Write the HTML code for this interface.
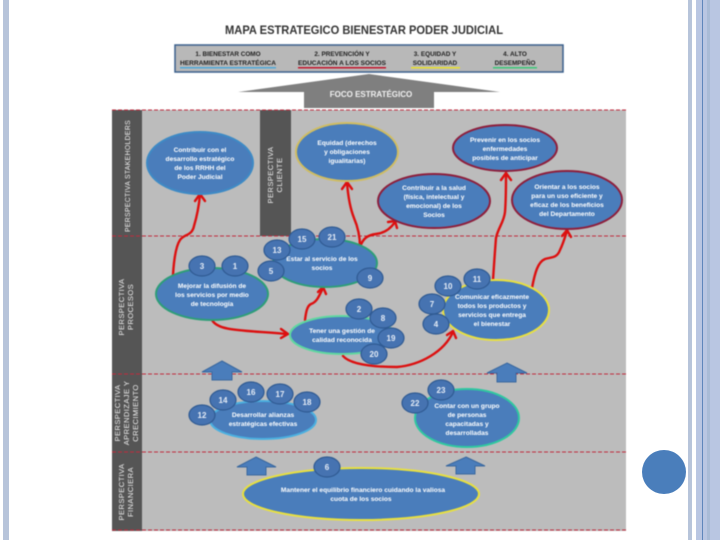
<!DOCTYPE html>
<html lang="es">
<head>
<meta charset="utf-8">
<title>Mapa Estratégico</title>
<style>
html,body{margin:0;padding:0;width:720px;height:540px;background:#fff;overflow:hidden}
svg{display:block}
.soft{filter:blur(.5px)}
text{font-family:"Liberation Sans",sans-serif;text-anchor:middle}
.t{font-size:6.6px;font-weight:bold;fill:#fff}
.n{font-size:8px;font-weight:bold;fill:#e6edf7}
.v{font-size:7.6px;fill:#eee;letter-spacing:.4px}
.h{font-size:6.4px;font-weight:bold;fill:#222}
.e{fill:#4a7dbb;stroke-width:2}
.b{fill:#4673b1;stroke:#2f5a92;stroke-width:1.2}
.d{stroke:#bf2a3c;stroke-width:1;stroke-dasharray:4 2;fill:none}
.r{stroke:#dc1010;stroke-width:2.4;fill:none;stroke-linecap:round;stroke-linejoin:round}
.u{fill:#4a7dbb;stroke:#3a689f;stroke-width:1}
</style>
</head>
<body>
<svg width="720" height="540" viewBox="0 0 720 540" xmlns="http://www.w3.org/2000/svg">
<!-- side decoration -->
<rect x="3" y="0" width="6" height="540" fill="#b7c4da"/>
<rect x="688" y="0" width="4" height="540" fill="#b7c4da"/>
<rect x="696" y="0" width="24" height="540" fill="#b9c6e2"/>
<rect x="702" y="0" width="1" height="540" fill="#5f86bb"/>
<rect x="707" y="0" width="3" height="540" fill="#a9bbd6"/>
<circle cx="664" cy="472" r="22" fill="#4a7ebb"/>

<g class="soft">
<!-- title -->
<text x="364" y="34" font-size="12" font-weight="bold" fill="#333" textLength="278" lengthAdjust="spacingAndGlyphs">MAPA ESTRATEGICO BIENESTAR PODER JUDICIAL</text>

<!-- header bar -->
<rect x="175" y="45" width="388" height="27" fill="#b8b8b8" stroke="#3a5f8c" stroke-width="1.5"/>
<text class="h" x="228" y="56">1. BIENESTAR COMO</text>
<text class="h" x="228" y="65" textLength="96" lengthAdjust="spacingAndGlyphs">HERRAMIENTA ESTRATÉGICA</text>
<rect x="180" y="67" width="96" height="1.5" fill="#4fa8d8"/>
<text class="h" x="342" y="56">2. PREVENCIÓN Y</text>
<text class="h" x="342" y="65" textLength="88" lengthAdjust="spacingAndGlyphs">EDUCACIÓN A LOS SOCIOS</text>
<rect x="298" y="67" width="88" height="1.5" fill="#c3162c"/>
<text class="h" x="435" y="56">3. EQUIDAD Y</text>
<text class="h" x="435" y="65">SOLIDARIDAD</text>
<rect x="411" y="67" width="49" height="1.5" fill="#e8e02c"/>
<text class="h" x="515" y="56">4. ALTO</text>
<text class="h" x="515" y="65">DESEMPEÑO</text>
<rect x="493" y="67" width="44" height="1.5" fill="#3cc878"/>

<!-- focus arrow -->
<polygon points="369,74 500,92 434,92 434,108 304,108 304,92 238,92" fill="#7f7f7f"/>
<text x="371" y="97" font-size="8" font-weight="bold" fill="#f2f2f2">FOCO ESTRATÉGICO</text>

<!-- main panel -->
<rect x="112" y="110" width="514" height="421" fill="#bcbcbc"/>
<rect x="112" y="110" width="30" height="421" fill="#555"/>
<rect x="260" y="110" width="31" height="126" fill="#555"/>
<line class="d" x1="112" y1="110" x2="626" y2="110"/>
<line class="d" x1="112" y1="236" x2="626" y2="236"/>
<line class="d" x1="112" y1="374" x2="626" y2="374"/>
<line class="d" x1="112" y1="452" x2="626" y2="452"/>
<line class="d" x1="112" y1="530" x2="626" y2="530"/>

<!-- vertical labels -->
<text class="v" transform="translate(130,176) rotate(-90)" textLength="112" lengthAdjust="spacingAndGlyphs">PERSPECTIVA STAKEHOLDERS</text>
<text class="v" transform="translate(273,175) rotate(-90)">PERSPECTIVA</text>
<text class="v" transform="translate(282,175) rotate(-90)">CLIENTE</text>
<text class="v" transform="translate(124,307) rotate(-90)">PERSPECTIVA</text>
<text class="v" transform="translate(133,307) rotate(-90)">PROCESOS</text>
<text class="v" transform="translate(120,413) rotate(-90)">PERSPECTIVA</text>
<text class="v" transform="translate(129,413) rotate(-90)">APRENDIZAJE Y</text>
<text class="v" transform="translate(138,413) rotate(-90)">CRECIMIENTO</text>
<text class="v" transform="translate(124,492) rotate(-90)">PERSPECTIVA</text>
<text class="v" transform="translate(133,492) rotate(-90)">FINANCIERA</text>

<!-- block arrows -->
<polygon class="u" points="222,361 242,372 232,372 232,380 212,380 212,372 202,372"/>
<polygon class="u" points="507,363 527,373 516,373 516,382 497,382 497,373 487,373"/>
<polygon class="u" points="256,457 276,467 266,467 266,475 247,475 247,467 237,467"/>
<polygon class="u" points="466,457 485,466 475,466 475,474 456,474 456,466 446,466"/>

<!-- connectors -->
<path class="r" d="M173,275 C174,258 176,246 180,240 C184,234 192,236 194,226 C197,216 199,205 200,195"/>
<path class="r" d="M195,201 L200,194 L205,201"/>
<path class="r" d="M360,247 C360,235 357,225 354,218 C350,208 348,195 347,183"/>
<path class="r" d="M342,189 L347,182 L352,189"/>
<path class="r" d="M360,247 C363,238 368,235 376,234 C385,233 391,228 395,222"/>
<path class="r" d="M388,222 L395,221 L397,228"/>
<path class="r" d="M493,280 C494,265 495,250 496,238 C498,228 504,222 505,212 C506,200 506,185 506,174"/>
<path class="r" d="M501,180 L506,173 L511,180"/>
<path class="r" d="M532,288 C535,272 538,262 545,259 C552,257 557,258 560,250 C563,244 565,237 567,231"/>
<path class="r" d="M562,236 L567,230 L571,237"/>
<path class="r" d="M212,320 C218,331 240,330 287,334"/>
<path class="r" d="M281,329 L288,334 L281,338"/>
<path class="r" d="M305,320 C306,312 307,306 311,304 C317,302 319,296 323,288"/>
<path class="r" d="M318,292 L323,287 L326,294"/>
<path class="r" d="M343,356 C350,364 372,367 397,367 C420,365 444,352 453,332"/>
<path class="r" d="M447,335 L453,331 L456,338"/>

<!-- ellipses -->
<ellipse class="e" cx="200" cy="163" rx="53" ry="31" stroke="#3e8ac5"/>
<ellipse class="e" cx="347" cy="152" rx="51" ry="29" stroke="#d0bd62"/>
<ellipse class="e" cx="505" cy="148" rx="52" ry="23" stroke="#8e1f3c"/>
<ellipse class="e" cx="434" cy="201" rx="56" ry="27" stroke="#8e1f3c"/>
<ellipse class="e" cx="567" cy="200" rx="55" ry="29" stroke="#8e1f3c"/>
<ellipse class="e" cx="212" cy="294" rx="56" ry="26" stroke="#2e9e78"/>
<ellipse class="e" cx="325" cy="263" rx="52" ry="24" stroke="#2e9e78"/>
<ellipse class="e" cx="342" cy="335" rx="52" ry="19" stroke="#5fd8a0"/>
<ellipse class="e" cx="496" cy="310" rx="53" ry="30" stroke="#e8e040"/>
<ellipse class="e" cx="263" cy="420" rx="53" ry="19" stroke="#4bb0e0"/>
<ellipse class="e" cx="467" cy="418" rx="52" ry="29" stroke="#2fc8a0"/>
<ellipse class="e" cx="361" cy="494" rx="118" ry="26" stroke="#e8e040"/>

<!-- ellipse text -->
<text class="t" x="200" y="152">Contribuir con el</text>
<text class="t" x="200" y="161">desarrollo estratégico</text>
<text class="t" x="200" y="170">de los RRHH del</text>
<text class="t" x="200" y="179">Poder Judicial</text>
<text class="t" x="347" y="145">Equidad (derechos</text>
<text class="t" x="347" y="154">y obligaciones</text>
<text class="t" x="347" y="163">igualitarias)</text>
<text class="t" x="505" y="142">Prevenir en los socios</text>
<text class="t" x="505" y="151">enfermedades</text>
<text class="t" x="505" y="160">posibles de anticipar</text>
<text class="t" x="434" y="190">Contribuir a la salud</text>
<text class="t" x="434" y="199">(física, intelectual y</text>
<text class="t" x="434" y="208">emocional) de los</text>
<text class="t" x="434" y="217">Socios</text>
<text class="t" x="567" y="189">Orientar a los socios</text>
<text class="t" x="567" y="198">para un uso eficiente y</text>
<text class="t" x="567" y="207">eficaz de los beneficios</text>
<text class="t" x="567" y="216">del Departamento</text>
<text class="t" x="212" y="288">Mejorar la difusión de</text>
<text class="t" x="212" y="297">los servicios por medio</text>
<text class="t" x="212" y="306">de tecnología</text>
<text class="t" x="322" y="261">Estar al servicio de los</text>
<text class="t" x="322" y="270">socios</text>
<text class="t" x="342" y="333">Tener una gestión de</text>
<text class="t" x="342" y="342">calidad reconocida</text>
<text class="t" x="492" y="299">Comunicar eficazmente</text>
<text class="t" x="492" y="308">todos los productos y</text>
<text class="t" x="492" y="317">servicios que entrega</text>
<text class="t" x="492" y="326">el bienestar</text>
<text class="t" x="263" y="417">Desarrollar alianzas</text>
<text class="t" x="263" y="426">estratégicas efectivas</text>
<text class="t" x="467" y="408">Contar con un grupo</text>
<text class="t" x="467" y="417">de personas</text>
<text class="t" x="467" y="426">capacitadas y</text>
<text class="t" x="467" y="435">desarrolladas</text>
<text class="t" x="363" y="492">Mantener el equilibrio financiero cuidando la valiosa</text>
<text class="t" x="361" y="501">cuota de los socios</text>

<!-- badges -->
<ellipse class="b" cx="202" cy="266" rx="13" ry="10"/><text class="n" x="202" y="269">3</text>
<ellipse class="b" cx="235" cy="266" rx="13" ry="10"/><text class="n" x="235" y="269">1</text>
<ellipse class="b" cx="277" cy="250" rx="13" ry="10"/><text class="n" x="277" y="253">13</text>
<ellipse class="b" cx="302" cy="239" rx="13" ry="10"/><text class="n" x="302" y="242">15</text>
<ellipse class="b" cx="332" cy="237" rx="13" ry="10"/><text class="n" x="332" y="240">21</text>
<ellipse class="b" cx="271" cy="271" rx="13" ry="10"/><text class="n" x="271" y="274">5</text>
<ellipse class="b" cx="370" cy="278" rx="13" ry="10"/><text class="n" x="370" y="281">9</text>
<ellipse class="b" cx="359" cy="309" rx="13" ry="10"/><text class="n" x="359" y="312">2</text>
<ellipse class="b" cx="383" cy="318" rx="13" ry="10"/><text class="n" x="383" y="321">8</text>
<ellipse class="b" cx="391" cy="338" rx="13" ry="10"/><text class="n" x="391" y="341">19</text>
<ellipse class="b" cx="374" cy="354" rx="13" ry="10"/><text class="n" x="374" y="357">20</text>
<ellipse class="b" cx="448" cy="286" rx="13" ry="10"/><text class="n" x="448" y="289">10</text>
<ellipse class="b" cx="477" cy="279" rx="13" ry="10"/><text class="n" x="477" y="282">11</text>
<ellipse class="b" cx="432" cy="304" rx="13" ry="10"/><text class="n" x="432" y="307">7</text>
<ellipse class="b" cx="436" cy="324" rx="13" ry="10"/><text class="n" x="436" y="327">4</text>
<ellipse class="b" cx="223" cy="400" rx="13" ry="10"/><text class="n" x="223" y="403">14</text>
<ellipse class="b" cx="251" cy="392" rx="13" ry="10"/><text class="n" x="251" y="395">16</text>
<ellipse class="b" cx="280" cy="394" rx="13" ry="10"/><text class="n" x="280" y="397">17</text>
<ellipse class="b" cx="307" cy="402" rx="13" ry="10"/><text class="n" x="307" y="405">18</text>
<ellipse class="b" cx="202" cy="415" rx="13" ry="10"/><text class="n" x="202" y="418">12</text>
<ellipse class="b" cx="327" cy="467" rx="13" ry="10"/><text class="n" x="327" y="470">6</text>
<ellipse class="b" cx="415" cy="403" rx="13" ry="10"/><text class="n" x="415" y="406">22</text>
<ellipse class="b" cx="441" cy="390" rx="13" ry="10"/><text class="n" x="441" y="393">23</text>
</g>
</svg>
</body>
</html>
